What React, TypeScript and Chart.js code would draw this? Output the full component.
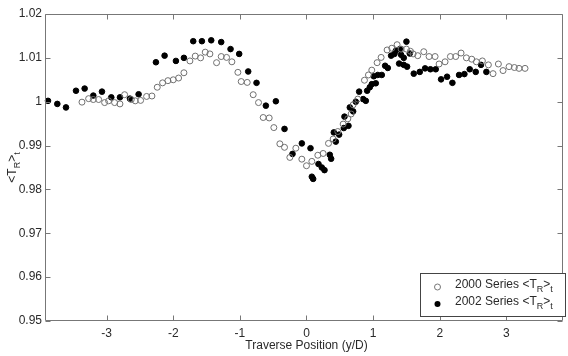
import { useEffect, useRef } from "react";
import { Chart, registerables } from "chart.js";

Chart.register(...registerables);

// ---- Data ----
const series2000X = [
  -3.37, -3.27, -3.2, -3.12, -3.03, -2.97, -2.88, -2.8, -2.73, -2.63, -2.57, -2.49, -2.4, -2.32,
  -2.24, -2.16, -2.08, -2.0, -1.92, -1.84, -1.75, -1.67, -1.59, -1.52, -1.45, -1.35, -1.28, -1.2,
  -1.12, -1.03, -0.98, -0.89, -0.8, -0.72, -0.65, -0.56, -0.49, -0.4, -0.33, -0.25, -0.16, -0.07,
  0.0, 0.08, 0.17, 0.25, 0.33, 0.4, 0.47, 0.55, 0.62, 0.67, 0.7, 0.77, 0.87, 0.93, 0.98, 1.06,
  1.12, 1.21, 1.28, 1.36, 1.42, 1.5, 1.56, 1.6, 1.67, 1.76, 1.84, 1.93, 1.99, 2.08, 2.16, 2.24,
  2.32, 2.4, 2.48, 2.55, 2.64, 2.73, 2.8, 2.88, 2.95, 3.04, 3.12, 3.19, 3.28,
];
const series2000Y = [
  0.9999, 1.0007, 1.0005, 1.0005, 0.9998, 1.0002, 0.9998, 0.9995, 1.0016, 1.0005, 1.0002, 1.0003,
  1.0012, 1.0013, 1.0033, 1.0043, 1.0048, 1.005, 1.0054, 1.0066, 1.0093, 1.0104, 1.01, 1.0113,
  1.0109, 1.0089, 1.0103, 1.0101, 1.0091, 1.0067, 1.0046, 1.0044, 1.0016, 0.9998, 0.9964, 0.9963,
  0.9941, 0.9904, 0.9896, 0.9873, 0.9894, 0.9869, 0.9854, 0.9864, 0.9878, 0.9882, 0.9905, 0.9915,
  0.9932, 0.9949, 0.9961, 0.9972, 0.9993, 1.0006, 1.0049, 1.0061, 1.0072, 1.0089, 1.0101, 1.0118,
  1.0122, 1.013, 1.012, 1.012, 1.0115, 1.0109, 1.0105, 1.0114, 1.0103, 1.0103, 1.0086, 1.0091,
  1.0103, 1.0103, 1.0111, 1.01, 1.0097, 1.0091, 1.0093, 1.0084, 1.0064, 1.0086, 1.0071, 1.008,
  1.0078, 1.0076, 1.0076,
];

const series2002X = [
  -3.88, -3.74, -3.61, -3.46, -3.33, -3.2, -3.07, -2.93, -2.8, -2.65, -2.52, -2.26, -2.13, -1.96,
  -1.84, -1.7, -1.57, -1.43, -1.28, -1.14, -1.01, -0.875, -0.75, -0.61, -0.46, -0.33, -0.21, -0.07,
  0.06, 0.08, 0.1, 0.18, 0.23, 0.27, 0.35, 0.37, 0.41, 0.44, 0.49, 0.56, 0.57, 0.63, 0.65, 0.7,
  0.74, 0.79, 0.85, 0.89, 0.91, 0.95, 0.98, 1.01, 1.04, 1.07, 1.13, 1.18, 1.22, 1.27, 1.32, 1.34,
  1.39, 1.4, 1.42, 1.46, 1.46, 1.5, 1.51, 1.55, 1.61, 1.7, 1.78, 1.86, 1.94, 2.02, 2.11, 2.19,
  2.29, 2.37, 2.45, 2.54, 2.62, 2.7,
];
const series2002Y = [
  1.0002, 0.9995, 0.9987, 1.0025, 1.003, 1.0014, 1.0023, 1.001, 1.001, 1.0007, 1.0017, 1.009,
  1.0105, 1.0093, 1.01, 1.0138, 1.0138, 1.014, 1.0136, 1.012, 1.0109, 1.0069, 1.0043, 0.9991,
  1.0001, 0.9938, 0.9881, 0.9905, 0.9894, 0.9829, 0.9824, 0.9858, 0.985, 0.9844, 0.9879, 0.987,
  0.993, 0.9909, 0.9925, 0.994, 0.9966, 0.9945, 0.9987, 0.9978, 1.0, 1.0023, 1.0006, 1.0002,
  1.0025, 1.0033, 1.004, 1.0058, 1.0042, 1.0061, 1.0061, 1.0082, 1.0077, 1.0105, 1.0109, 1.0116,
  1.0087, 1.012, 1.0107, 1.01, 1.0084, 1.0137, 1.008, 1.011, 1.0064, 1.0068, 1.0076, 1.0074,
  1.0074, 1.0051, 1.0057, 1.0043, 1.0061, 1.0063, 1.0074, 1.0068, 1.0084, 1.0068,
];

const xTickValues = [-3, -2, -1, 0, 1, 2, 3];
const yTickValues = [0.95, 0.96, 0.97, 0.98, 0.99, 1.0, 1.01, 1.02];
const xRange = [-3.91, 3.85];
const yRange = [0.95, 1.02];
const seriesLabels = ["2000 Series", "2002 Series"];
const xTitle = "Traverse Position (y/D)";
// <T_R>_t rendered as rich text parts
const yTitleParts = [
  { t: "<T", sub: false },
  { t: "R", sub: true },
  { t: ">", sub: false },
  { t: "t", sub: true },
];

const FONT = '"Liberation Sans", Arial, Helvetica, sans-serif';
const TEXT = "#2a2a2a";
const FRAME = "#777777";

function richWidth(ctx: CanvasRenderingContext2D, parts: any[], size: number) {
  let w = 0;
  for (const p of parts) {
    ctx.font = `${p.sub ? Math.round(size * 0.75) : size}px ${FONT}`;
    w += ctx.measureText(p.t).width;
  }
  return w;
}

function drawRich(ctx: CanvasRenderingContext2D, parts: any[], x: number, y: number, size: number) {
  let cx = x;
  ctx.textAlign = "left";
  ctx.textBaseline = "middle";
  for (const p of parts) {
    const s = p.sub ? Math.round(size * 0.75) : size;
    ctx.font = `${s}px ${FONT}`;
    ctx.fillText(p.t, cx, p.sub ? y + size * 0.38 : y);
    cx += ctx.measureText(p.t).width;
  }
  return cx;
}

const decorPlugin = {
  id: "decor",
  afterDraw(chart: any) {
    const { ctx, chartArea: a, scales } = chart;
    const xs = scales.x;
    const ys = scales.y;
    ctx.save();
    // frame
    ctx.strokeStyle = FRAME;
    ctx.lineWidth = 1;
    const L = Math.round(a.left) - 0.5;
    const R = Math.round(a.right) - 0.5;
    const T = Math.round(a.top) + 0.5;
    const B = Math.round(a.bottom) - 0.5;
    ctx.beginPath();
    ctx.rect(L, T, R - L, B - T);
    ctx.stroke();
    // inward ticks
    const tl = 5;
    ctx.beginPath();
    for (const v of xTickValues) {
      const px = Math.round(xs.getPixelForValue(v)) + 0.5;
      ctx.moveTo(px, B);
      ctx.lineTo(px, B - tl);
      ctx.moveTo(px, T);
      ctx.lineTo(px, T + tl);
    }
    for (const v of yTickValues) {
      const py = Math.round(ys.getPixelForValue(v)) + 0.5;
      ctx.moveTo(L, py);
      ctx.lineTo(L + tl, py);
      ctx.moveTo(R, py);
      ctx.lineTo(R - tl, py);
    }
    ctx.stroke();

    ctx.fillStyle = TEXT;
    // x title
    ctx.font = `12px ${FONT}`;
    ctx.textAlign = "center";
    ctx.textBaseline = "middle";
    ctx.fillText(xTitle, xs.getPixelForValue(0), 346);

    // y title (rotated)
    const ySize = 12;
    const yw = richWidth(ctx, yTitleParts, ySize);
    ctx.save();
    ctx.translate(13, (a.top + a.bottom) / 2);
    ctx.rotate(-Math.PI / 2);
    drawRich(ctx, yTitleParts, -yw / 2, 0, ySize);
    ctx.restore();

    // legend box
    const bx = 420.5, by = 273.5, bw = 145, bh = 43;
    ctx.fillStyle = "#ffffff";
    ctx.fillRect(bx, by, bw, bh);
    ctx.strokeStyle = "#444444";
    ctx.strokeRect(bx, by, bw, bh);
    const rows = [
      { label: seriesLabels[0], filled: false, y: 285 },
      { label: seriesLabels[1], filled: true, y: 302 },
    ];
    for (const r of rows) {
      ctx.beginPath();
      ctx.arc(437.5, r.y + 2, 3, 0, Math.PI * 2);
      if (r.filled) {
        ctx.fillStyle = "#000";
        ctx.fill();
      } else {
        ctx.strokeStyle = "#777";
        ctx.lineWidth = 1;
        ctx.stroke();
      }
      ctx.fillStyle = TEXT;
      ctx.font = `12px ${FONT}`;
      ctx.textAlign = "left";
      ctx.textBaseline = "middle";
      const lbl = r.label + " ";
      ctx.fillText(lbl, 455, r.y);
      const w = ctx.measureText(lbl).width;
      drawRich(ctx, yTitleParts, 455 + w, r.y, 12);
    }
    ctx.restore();
  },
};

export default function App() {
  const ref = useRef<HTMLCanvasElement | null>(null);
  useEffect(() => {
    if (!ref.current) return;
    const d2000 = series2000X.map((x, i) => ({ x, y: series2000Y[i] }));
    const d2002 = series2002X.map((x, i) => ({ x, y: series2002Y[i] }));
    const chart = new Chart(ref.current, {
      type: "scatter",
      data: {
        datasets: [
          {
            label: seriesLabels[0],
            data: d2000,
            pointStyle: "circle",
            pointRadius: 3,
            pointBorderWidth: 1,
            pointBorderColor: "#707070",
            pointBackgroundColor: "rgba(255,255,255,0)",
            clip: false as any,
          },
          {
            label: seriesLabels[1],
            data: d2002,
            pointStyle: "circle",
            pointRadius: 2.8,
            pointBorderWidth: 1,
            pointBorderColor: "#000",
            pointBackgroundColor: "#000",
            clip: false as any,
          },
        ],
      },
      options: {
        animation: false,
        responsive: false,
        devicePixelRatio: 1,
        layout: { padding: { top: 14, right: 1, left: 0, bottom: 0 } },
        plugins: { legend: { display: false }, tooltip: { enabled: false } },
        scales: {
          x: {
            type: "linear",
            min: xRange[0],
            max: xRange[1],
            grid: { display: false, drawTicks: false },
            border: { display: false },
            afterBuildTicks: (s: any) => {
              s.ticks = xTickValues.map((v) => ({ value: v }));
            },
            afterFit: (s: any) => {
              s.height = 35;
            },
            ticks: {
              color: TEXT,
              font: { family: FONT, size: 12 },
              padding: 5,
              maxRotation: 0,
              autoSkip: false,
              callback: (v: any) => String(v),
            },
          },
          y: {
            type: "linear",
            min: yRange[0],
            max: yRange[1],
            grid: { display: false, drawTicks: false },
            border: { display: false },
            afterBuildTicks: (s: any) => {
              s.ticks = yTickValues.map((v) => ({ value: v }));
            },
            afterFit: (s: any) => {
              s.width = 46;
            },
            ticks: {
              color: TEXT,
              font: { family: FONT, size: 12 },
              padding: 4,
              autoSkip: false,
              callback: (v: any) => String(+Number(v).toFixed(2)),
            },
          },
        },
      },
      plugins: [decorPlugin],
    });
    return () => chart.destroy();
  }, []);
  return (
    <div style={{ position: "fixed", left: 0, top: 0, width: 568, height: 356, background: "#fff" }}>
      <canvas ref={ref} width={568} height={356} />
    </div>
  );
}
